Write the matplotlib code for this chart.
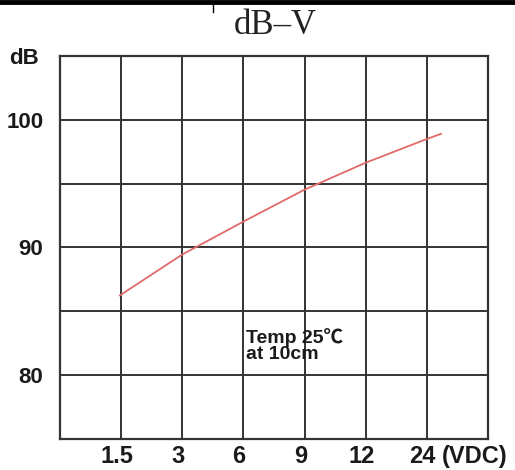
import matplotlib
matplotlib.use("Agg")
import matplotlib.pyplot as plt
from matplotlib.lines import Line2D

VOLT_LABELS = ["1.5", "3", "6", "9", "12", "24"]
CURVE_POS = [0.98, 2, 3, 4, 5, 6, 6.23]
CURVE_DB = [86.25, 89.45, 92.03, 94.53, 96.64, 98.5, 98.9]
DB_TICKS = [80, 90, 100]

INK = "#1a1a1a"
GRID = "#333333"
RED = "#e06a6a"

fig = plt.figure(figsize=(5.15, 4.7), dpi=100)
fig.patch.set_facecolor("white")
ax = fig.add_axes([0.1165, 0.066, 0.8311, 0.8149])

ax.set_xlim(0, 7)
ax.set_ylim(75, 105)
for x in range(1, 7):
    ax.axvline(x, color=GRID, lw=1.4, zorder=1)
for y in range(80, 105, 5):
    ax.axhline(y, color=GRID, lw=1.4, zorder=1)
for s in ax.spines.values():
    s.set_color(GRID)
    s.set_linewidth(1.6)

ax.plot(CURVE_POS, CURVE_DB, color=RED, lw=1.3, zorder=3)

ax.set_xticks([])
ax.set_yticks(DB_TICKS)
ax.set_yticklabels([str(v) for v in DB_TICKS], fontsize=16, fontweight="bold",
                   family="Liberation Sans", color=INK)
ax.tick_params(axis="y", length=0, pad=12)

for i, lab in enumerate(VOLT_LABELS):
    ax.text(i + 0.93, 73.6, lab, ha="center", va="center", fontsize=17,
            fontweight="bold", family="Liberation Sans", color=INK)
ax.text(6.79, 73.6, "(VDC)", ha="center", va="center", fontsize=17,
        fontweight="bold", family="Liberation Sans", color=INK, clip_on=False)

fig.text(24 / 515, 1 - 59 / 470, "dB", ha="center", va="center", fontsize=16,
         fontweight="bold", family="Liberation Sans", color=INK)

ax.text(3.05, 82.3, "Temp 25\u2103\nat 10cm", ha="left", va="center",
        fontsize=14, fontweight="bold", linespacing=0.95,
        family=["Liberation Sans", "Noto Sans CJK SC", "DejaVu Sans"], color=INK)

fig.text(275 / 515, 1 - 25 / 470, "dB\u2013V", ha="center", va="center",
         fontsize=25, family="Liberation Serif", color="#222222")

# table border remnants at the top of the scan
fig.add_artist(Line2D([0, 1], [1 - 2 / 470, 1 - 2 / 470], color="black", lw=3.5,
                      transform=fig.transFigure))
fig.add_artist(Line2D([213 / 515, 213 / 515], [1 - 3 / 470, 1 - 12 / 470],
                      color="black", lw=1, transform=fig.transFigure))

fig.savefig("out.png", dpi=100, facecolor="white")
